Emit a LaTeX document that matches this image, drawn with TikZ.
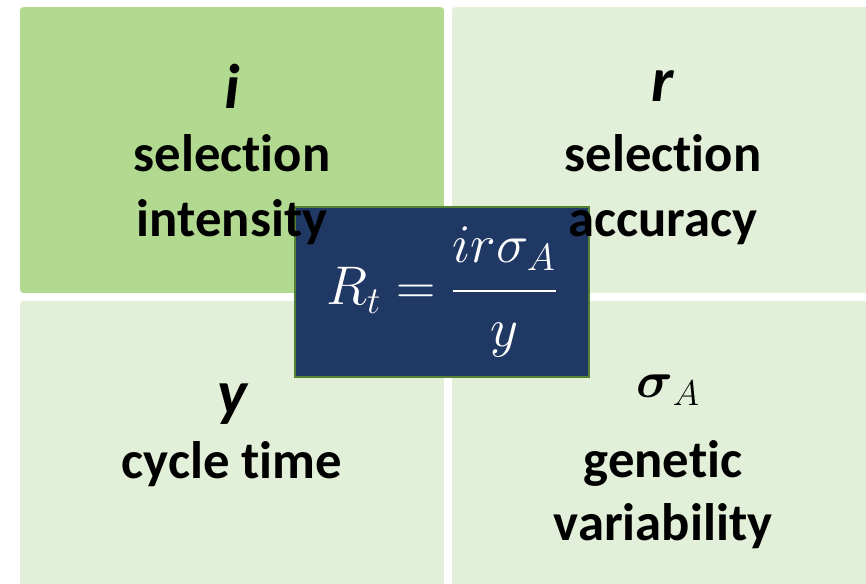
\RequirePackage{fix-cm}
\documentclass[tikz,border=0pt]{standalone}
\usepackage{fontspec}
\setmainfont{Carlito}[Ligatures=NoCommon]
\usepackage{amsmath}
\usetikzlibrary{positioning}
\definecolor{QuadDark}{RGB}{177,217,144}
\definecolor{QuadLight}{RGB}{227,240,217}
\definecolor{FormNavy}{RGB}{32,56,100}
\definecolor{FormEdge}{RGB}{84,130,53}

\begin{document}
\begin{tikzpicture}[x=0.02cm, y=-0.02cm,
          quad/.style={rectangle, rounded corners=2pt, minimum width=8.48cm,
                       minimum height=5.72cm, inner sep=0pt},
          head/.style={font=\fontsize{36}{40}\selectfont\bfseries\itshape, inner sep=0pt},
          lbl/.style={font=\fontsize{30}{37}\selectfont\bfseries, align=center, inner sep=0pt, anchor=base}
        ]
        \clip (0,0) rectangle (866,584);
        \fill[white] (0,0) rectangle (866,584);
        % quadrants
        \node[quad, fill=QuadDark]  (qi) at (232,150) {};
        \node[quad, fill=QuadLight] (qr) at (664,150) {};
        \node[quad, fill=QuadLight] (qy) at (232,444) {};
        \node[quad, fill=QuadLight] (qs) at (664,444) {};

        % formula box
        \node[rectangle, fill=FormNavy, draw=FormEdge, line width=0.8pt,
              minimum width=5.88cm, minimum height=3.4cm, text=white,
              font=\fontsize{31}{36}\selectfont] (rt) at (442,292)
              {$\displaystyle R_t=\frac{\raisebox{0.1em}{$ir\sigma_A$}}{\raisebox{-0.08em}{$y$}}$};

        % texts
        \node[head] (ihead) at (232,86) {i};
        \node[lbl] (ilbl) at (232,237) {selection\\intensity};
        \node[head] (rhead) at (663,86) {r};
        \node[lbl] (rlbl) at (663,237) {selection\\accuracy};
        \node[head] (yhead) at (232,404) {y};
        \node[lbl] (ylbl) at (232,479) {cycle time};
        \node[inner sep=0pt, font=\fontsize{29}{33}\selectfont] (shead) at (668,390)
              {$\boldsymbol{\sigma}_A$};
        \node[lbl, font=\fontsize{30}{35.5}\selectfont\bfseries] (slbl) at (663,540) {genetic\\variability};
\end{tikzpicture}
\end{document}
